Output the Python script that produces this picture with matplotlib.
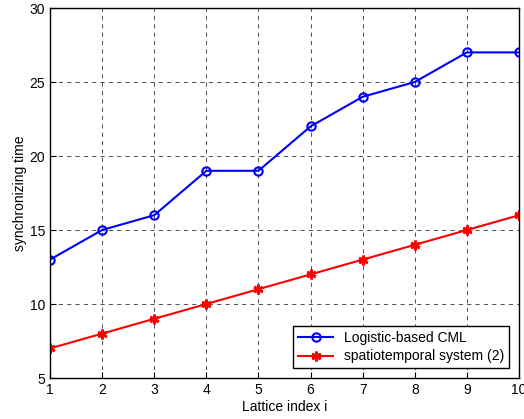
import matplotlib
matplotlib.use("Agg")
import matplotlib.pyplot as plt

lattice = [1, 2, 3, 4, 5, 6, 7, 8, 9, 10]
logistic_cml = [13, 15, 16, 19, 19, 22, 24, 25, 27, 27]
spatiotemporal = [7, 8, 9, 10, 11, 12, 13, 14, 15, 16]

plt.rcParams['font.family'] = ['Liberation Sans', 'DejaVu Sans']

fig = plt.figure(figsize=(5.24, 4.19), dpi=100)
ax = fig.add_axes([50 / 524, 41 / 419, 469 / 524, 370 / 419])

ax.plot(lattice, logistic_cml, color='blue', linewidth=1.5, marker='o',
        markersize=6, markerfacecolor='none', markeredgewidth=1.5,
        label='Logistic-based CML')
ax.plot(lattice, spatiotemporal, color='red', linewidth=1.5, marker=(6, 2, 0),
        markersize=7, markeredgewidth=2, label='spatiotemporal system (2)')

ax.set_xlim(1, 10)
ax.set_ylim(5, 30)
ax.set_xticks(lattice)
ax.set_yticks([5, 10, 15, 20, 25, 30])
ax.grid(True, color='black', linestyle=(0, (5, 5)), linewidth=0.6, alpha=0.8)
ax.tick_params(direction='in', labelsize=10, length=4)
for s in ax.spines.values():
    s.set_linewidth(1.0)

ax.set_xlabel('Lattice index i', fontsize=10, labelpad=2)
ax.set_ylabel('synchronizing time', fontsize=10, labelpad=2)

leg = ax.legend(loc='lower right', fontsize=10, fancybox=False, framealpha=1,
                edgecolor='black', borderaxespad=0.7, handlelength=2.5,
                borderpad=0.35, labelspacing=0.3)
leg.get_frame().set_linewidth(1.0)

fig.savefig('out.png', dpi=100)
